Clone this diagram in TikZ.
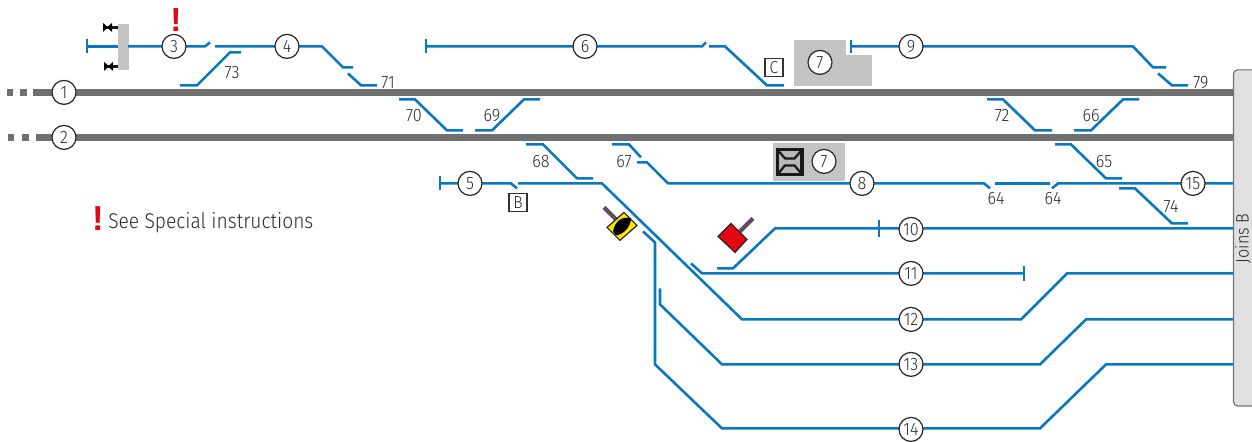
\documentclass[tikz,border=0pt]{standalone}
\usepackage{fontspec}
\setmainfont[UprightFont=*-Light,BoldFont=*,FakeStretch=0.9]{Fira Sans}
\newfontfamily\markfont[Ligatures=TeX]{Liberation Sans Bold}
\usetikzlibrary{calc}
\definecolor{trk}{HTML}{0A78C0}
\definecolor{mainc}{HTML}{707070}
\definecolor{pad}{HTML}{C4C4C4}
\definecolor{stem}{HTML}{5E5060}
\definecolor{sigred}{HTML}{E30613}
\definecolor{sigyel}{HTML}{FFE500}
\definecolor{txt}{HTML}{2A2A2A}
\tikzset{
  trackline/.style={draw=trk,line width=1.95pt,line join=miter},
  mainline/.style={draw=mainc,line width=4.9pt},
  circ/.style={circle,draw=black!85,line width=0.9pt,fill=white,minimum size=18pt,inner sep=0pt,font=\fontsize{13.5}{13.5}\selectfont,text=txt},
  lab/.style={font=\fontsize{13.5}{13.5}\selectfont,text=txt,inner sep=0pt},
  boxlab/.style={draw=black!80,line width=0.8pt,fill=white,minimum size=13.5pt,inner sep=0pt,font=\fontsize{13}{13}\selectfont,text=txt},
  padfill/.style={fill=pad,draw=pad,line width=0.4pt},
  stemline/.style={draw=stem,line width=3.2pt},
  warn/.style={text=sigred,inner sep=0pt},
}
\begin{document}
\begin{tikzpicture}[x=0.75pt,y=-0.75pt]
\useasboundingbox (0,0) rectangle (1252,442);
\begin{scope}[yshift=-0.3pt]
% gray areas
\node[padfill,minimum width=7.5pt,minimum height=33.75pt,inner sep=0pt] (platform) at (123,46.5) {};
\draw[padfill] (794,40) -- (845,40) -- (845,55) -- (871,55) -- (871,85) -- (794,85) -- cycle;
\node[padfill,minimum width=53pt,minimum height=28pt,inner sep=0pt] (shedpad) at (808.5,161.5) {};
% main lines
\draw[mainline] (33,92) -- (1234,92);
\draw[mainline] (36,137) -- (1234,137);
\foreach \a/\b in {7/13,20/26.5}{\draw[mainline] (\a,92) -- (\b,92);}
\foreach \a/\b in {8/14,22/29}{\draw[mainline] (\a,137) -- (\b,137);}
% track 3, 4
\draw[trackline] (87,39) -- (87,53);
\draw[trackline] (87,46) -- (118,46);
\draw[trackline] (128,46) -- (205,46) -- (210,42);
\draw[trackline] (215,46) -- (322,46) -- (343,67) -- (353,67);
\draw[trackline] (348,73) -- (361,85) -- (377,85);
\draw[trackline] (180,85) -- (197,85) -- (230,52) -- (241,52);
% track 6
\draw[trackline] (426,39) -- (426,53);
\draw[trackline] (426,46) -- (702,46) -- (706,42);
\draw[trackline] (709,46) -- (725,46) -- (767,85) -- (784,85);
% track 9
\draw[trackline] (851,40) -- (851,53);
\draw[trackline] (851,46) -- (1133,46) -- (1153,67) -- (1166,67);
\draw[trackline] (1158,73) -- (1172,85) -- (1188,85);
% crossovers
\draw[trackline] (399,99) -- (415,99) -- (447,130) -- (463,130);
\draw[trackline] (475,130) -- (492,130) -- (524,99) -- (540,99);
\draw[trackline] (987,99) -- (1003,99) -- (1035,130) -- (1052,130);
\draw[trackline] (1074,130) -- (1091,130) -- (1123,99) -- (1139,99);
\draw[trackline] (1055,144) -- (1071,144) -- (1106,178) -- (1122,178);
\draw[trackline] (526,144) -- (543,144) -- (577,178) -- (593,178);
\draw[trackline] (612,144) -- (629,144) -- (641,157);
\draw[trackline] (637,162) -- (647,162) -- (668,183) -- (984,183) -- (990,188);
\draw[trackline] (995,183) -- (1050,183);
\draw[trackline] (1052,188) -- (1058,183) -- (1233,183);
\draw[trackline] (1119,188) -- (1135,188) -- (1172,223) -- (1188,223);
% track 5 / 12
\draw[trackline] (440,176) -- (440,190);
\draw[trackline] (440,183) -- (511,183) -- (517,188);
\draw[trackline] (518,183) -- (602,183) -- (742,319) -- (1021,319) -- (1067,273) -- (1233,273);
% track 10
\draw[trackline] (717,268) -- (733,268) -- (775,228) -- (1233,228);
\draw[trackline] (879,220) -- (879,237);
% track 11
\draw[trackline] (691,263) -- (702,273) -- (1024,273);
\draw[trackline] (1024,266) -- (1024,281);
% track 13, 14
\draw[trackline] (660,288) -- (660,304) -- (722,364) -- (1040,364) -- (1086,319) -- (1233,319);
\draw[trackline] (643,231) -- (655,242) -- (655,364) -- (722,428) -- (1040,428) -- (1106,364) -- (1233,364);
% side bar
\draw[fill=black!12,draw=black!55,line width=0.9pt,rounded corners=3pt] (1260,69.5) -- (1233.5,69.5) -- (1233.5,405.5) -- (1260,405.5);
\node[lab,rotate=90] (joins) at (1243,238) {Joins B};
% buffers at platform
\draw[line width=2.4pt,black!90] (103,27) -- (118,27);
\draw[line width=2.4pt,black!90] (104,66) -- (118,66);
\fill[black] (103,22.5) -- (108,27) -- (103,31.5) -- cycle (112,22.5) -- (107,27) -- (112,31.5) -- cycle;
\fill[black] (104,61.5) -- (109,66) -- (104,70.5) -- cycle (113,61.5) -- (108,66) -- (113,70.5) -- cycle;
% signals
\draw[stemline] (604,207) -- (616,219);
\draw[fill=sigyel,draw=black!85,line width=0.9pt] (607,227) -- (624,212) -- (637,225) -- (620,240) -- cycle;
\fill[black] (613,231) .. controls (615,221) and (621,216) .. (631,217.5) .. controls (631,226) and (624,234) .. (616,235) -- cycle;
\draw[stemline] (753,218) -- (740,231);
\draw[fill=sigred,draw=black!85,line width=0.9pt] (718,236) -- (731,223) -- (747,239) -- (735,252) -- cycle;
% shed icon
\draw[draw=black!90,fill=black!28,line width=2.4pt,line join=miter] (777.5,149.5) rectangle (802,174);
\draw[draw=black!90,line width=1.7pt,line join=miter] (777.5,149.5) -- (785,158) -- (794.5,158) -- (802,149.5);
\draw[draw=black!90,line width=1.7pt,line join=miter] (777.5,174) -- (785,165) -- (794.5,165) -- (802,174);
% station circles
\node[circ] (c1) at (64,92) {1};
\node[circ] (c2) at (64,137) {2};
\node[circ] (c3) at (174,46) {3};
\node[circ] (c4) at (287,46) {4};
\node[circ] (c5) at (470,183) {5};
\node[circ] (c6) at (585,46) {6};
\node[circ] (c7a) at (820,62) {7};
\node[circ] (c7b) at (824,161) {7};
\node[circ] (c8) at (862,183) {8};
\node[circ] (c9) at (911,46) {9};
\node[circ] (c10) at (911,229) {10};
\node[circ] (c11) at (911,273) {11};
\node[circ] (c12) at (911,319) {12};
\node[circ] (c13) at (911,364) {13};
\node[circ] (c14) at (911,429) {14};
\node[circ] (c15) at (1193,183) {15};
% boxes
\node[boxlab] (bb) at (518,202) {B};
\node[boxlab] (bc) at (774,67) {C};
% labels
\node[lab] (l73) at (232,72) {73};
\node[lab] (l71) at (388,82) {71};
\node[lab] (l70) at (414,115) {70};
\node[lab] (l69) at (492,115) {69};
\node[lab] (l68) at (541,161) {68};
\node[lab] (l67) at (624,161) {67};
\node[lab] (l72) at (1002,115) {72};
\node[lab] (l66) at (1091,115) {66};
\node[lab] (l65) at (1104,161) {65};
\node[lab] (l64a) at (996,198) {64};
\node[lab] (l64b) at (1053,198) {64};
\node[lab] (l74) at (1171,206) {74};
\node[lab] (l79) at (1201,82) {79};
% notes
\node[warn,font=\markfont\fontsize{25}{25}\selectfont] (w1) at (176,20) {!};
\node[warn,font=\markfont\fontsize{26}{26}\selectfont] (w2) at (98,218) {!};
\node[lab,anchor=west,font=\fontsize{16}{16}\selectfont] (note) at (108,222.5) {See Special instructions};
\end{scope}
\end{tikzpicture}
\end{document}
